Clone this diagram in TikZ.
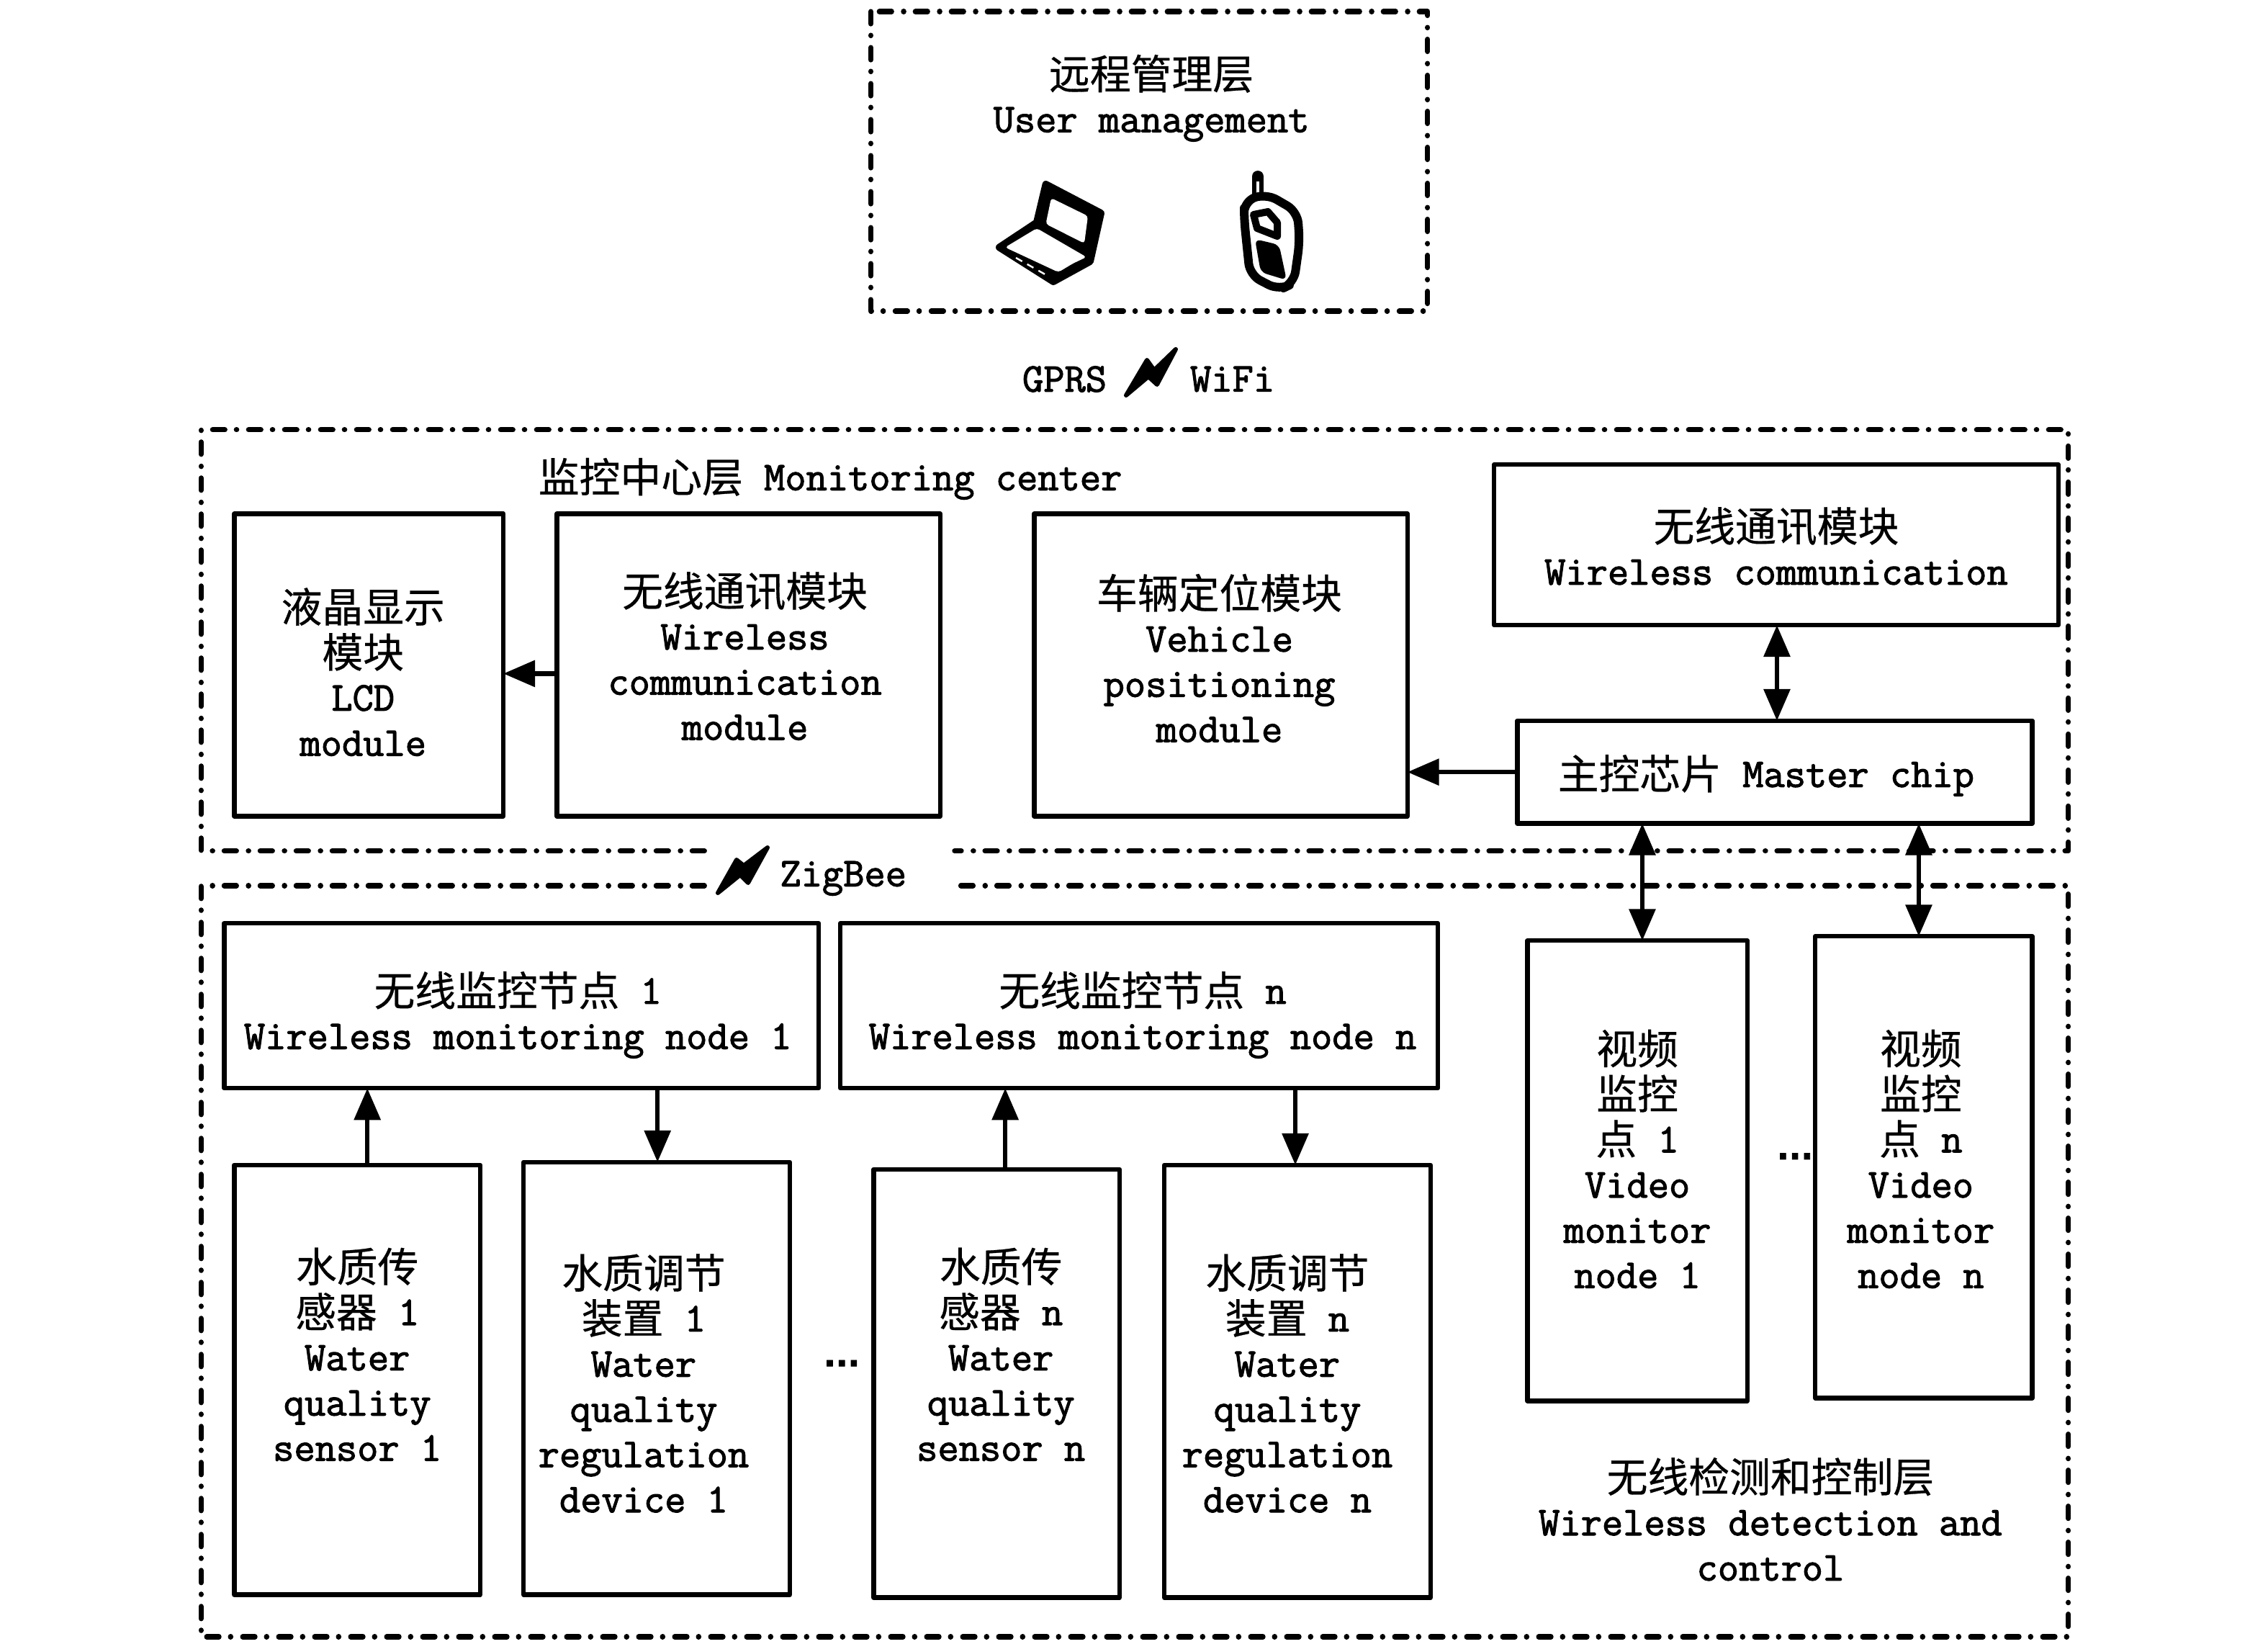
\documentclass[tikz,border=0pt]{standalone}
\usepackage{fontspec}
\setmonofont{Latin Modern Mono}[FakeBold=2]
\newfontfamily\cjk{Noto Sans CJK SC}[FakeBold=0.5]
\newfontfamily\dotfont{DejaVu Sans Bold}[FakeBold=2]
\usetikzlibrary{arrows.meta}
\tikzset{
  box/.style={draw=black,line width=3.2pt,fill=white,inner sep=0pt,outer sep=0pt,line join=round},
  lab/.style={font=\ttfamily\fontsize{28.4}{31.4}\selectfont,align=center,inner sep=0pt,text=black},
  dashline/.style={draw=black,line width=3.6pt,line cap=round,line join=round,dash pattern=on 8.5pt off 8pt on 0.2pt off 8.3pt},
  arr/.style={draw=black,line width=3.2pt,-{Triangle[length=22pt,width=18pt]}},
  dbl/.style={draw=black,line width=3.2pt,{Triangle[length=22pt,width=18pt]}-{Triangle[length=22pt,width=18pt]}},
  ink/.style={fill=black,draw=black,line join=round},
  icon/.style={x=0.5pt,y=-0.5pt},
  dotlab/.style={font=\dotfont\fontsize{22}{22}\selectfont,inner sep=0pt,text=black}
}
\newcommand{\zh}[1]{\raisebox{-1.5pt}[20pt][5pt]{\cjk #1}}
\newcommand{\boxn}[5]{\node[box,minimum width={(#4-#2)*1.004464pt},minimum height={(#5-#3)*1.00484pt}] (#1) at ({(#2+#4)/2},{(#3+#5)/2}) {};}
\begin{document}
\begin{tikzpicture}[x=1.004464pt,y=-1.00484pt]
\useasboundingbox (0,0) rectangle (1568,1136);
\fill[white] (0,0) rectangle (1568,1136);
% layer frames
\coordinate (ta) at (602,8); \coordinate (tb) at (987,215);
\draw[dashline] (ta) rectangle (tb);
\coordinate (ma) at (487,588); \coordinate (mb) at (139,588); \coordinate (mc) at (139,297); \coordinate (md) at (1430,297); \coordinate (me) at (1430,588); \coordinate (mf) at (660,588);
\draw[dashline] (ma) -- (mb) -- (mc) -- (md) -- (me) -- (mf);
\coordinate (da) at (487,612); \coordinate (db) at (139,612); \coordinate (dc) at (139,1131); \coordinate (dd) at (1430,1131); \coordinate (de) at (1430,612); \coordinate (df) at (658,612);
\draw[dashline] (da) -- (db) -- (dc) -- (dd) -- (de) -- (df);
% boxes
\boxn{lcd}{162}{355}{348}{564}
\boxn{wcm}{385}{355}{650}{564}
\boxn{veh}{715}{355}{973}{564}
\boxn{wc}{1033}{321}{1423}{432}
\boxn{chip}{1049}{498}{1405}{569}
\boxn{na}{155}{638}{566}{752}
\boxn{nb}{581}{638}{994}{752}
\boxn{sa}{162}{805}{332}{1102}
\boxn{ra}{362}{803}{546}{1102}
\boxn{sb}{604}{808}{774}{1104}
\boxn{rb}{805}{805}{989}{1104}
\boxn{va}{1056}{650}{1208}{968}
\boxn{vb}{1255}{647}{1405}{966}
% labels
\node[lab] (t1) at (796,69) {\zh{远程管理层}\\User management};
\node[lab] (t2) at (736,262) {GPRS};
\node[lab] (t3) at (852,262) {WiFi};
\node[lab] (t4) at (574,332) {\zh{监控中心层} Monitoring center};
\node[lab] (t5) at (251,465.5) {\zh{液晶显示}\\\zh{模块}\\LCD\\module};
\node[lab] (t6) at (515,454.5) {\zh{无线通讯模块}\\Wireless\\communication\\module};
\node[lab] (t7) at (843,456) {\zh{车辆定位模块}\\Vehicle\\positioning\\module};
\node[lab] (t8) at (1228,378.5) {\zh{无线通讯模块}\\Wireless communication};
\node[lab] (t9) at (1221,537) {\zh{主控芯片} Master chip};
\node[lab] (t10) at (583,607) {ZigBee};
\node[lab] (t11) at (358,702.5) {\zh{无线监控节点} 1\\Wireless monitoring node 1};
\node[lab] (t12) at (790,702.5) {\zh{无线监控节点} n\\Wireless monitoring node n};
\node[lab] (t13) at (247,937) {\zh{水质传}\\\zh{感器} 1\\Water\\quality\\sensor 1};
\node[lab] (t14) at (445,957) {\zh{水质调节}\\\zh{装置} 1\\Water\\quality\\regulation\\device 1};
\node[lab] (t15) at (692,937) {\zh{水质传}\\\zh{感器} n\\Water\\quality\\sensor n};
\node[lab] (t16) at (890,957) {\zh{水质调节}\\\zh{装置} n\\Water\\quality\\regulation\\device n};
\node[lab] (t17) at (1132,802) {\zh{视频}\\\zh{监控}\\\zh{点} 1\\Video\\monitor\\node 1};
\node[lab] (t18) at (1328,802) {\zh{视频}\\\zh{监控}\\\zh{点} n\\Video\\monitor\\node n};
\node[lab] (t19) at (1224,1051) {\zh{无线检测和控制层}\\Wireless detection and\\control};
\node[dotlab] (d1) at (582,942) {...};
\node[dotlab] (d2) at (1241,799) {...};
% connectors
\draw[dbl] ([xshift=0.5pt]wc.south) -- ([xshift=0.5pt]wc.south |- chip.north);
\draw[arr] (chip.west) -- (chip.west -| veh.east);
\draw[arr] (wcm.west) ++(0,-6pt) coordinate (w1) -- (w1 -| lcd.east);
\draw[dbl] ([xshift=-92pt]chip.south) -- ([xshift=-92pt]chip.south |- va.north);
\draw[dbl] ([xshift=100pt]chip.south) -- ([xshift=100pt]chip.south |- vb.north);
\draw[arr] ([xshift=7pt]sa.north) -- ([xshift=7pt]sa.north |- na.south);
\draw[arr] ([xshift=94.5pt]na.south) -- ([xshift=94.5pt]na.south |- ra.north);
\draw[arr] ([xshift=6pt]sb.north) -- ([xshift=6pt]sb.north |- nb.south);
\draw[arr] ([xshift=108.5pt]nb.south) -- ([xshift=108.5pt]nb.south |- rb.north);
% laptop icon
\begin{scope}[icon]
\draw[ink,line width=5pt] (1452.6,256) -- (1529,296) -- (1514,363) -- (1463,391) -- (1388,343.5) -- (1440,309) -- cycle;
\fill[white,rounded corners=2pt] (1460,275) -- (1511,300) -- (1506,338) -- (1452.5,311) -- cycle;
\fill[white,rounded corners=2pt] (1396,343.5) -- (1440,317) -- (1509,357) -- (1490,366) -- (1470,378) -- cycle;
\draw[white,line width=1.2pt,dash pattern=on 5pt off 4pt] (1411,358) -- (1455,383);
% phone icon
\draw[black,line width=8pt,line cap=round] (1747,245) -- (1747,271);
\draw[white,line width=2pt] (1747,252) -- (1747,268);
\draw[black,line width=6pt,line join=round,fill=white,rounded corners=8pt] (1728,279) -- (1759,269) -- (1802,294) -- (1805,336) -- (1797,393) -- (1776.5,403) -- (1736,382) -- (1728,305) -- cycle;
\draw[black,line width=5pt,line join=round] (1741,298) -- (1761,294) -- (1774,309) -- (1774,328) -- (1746,317) -- cycle;
\fill[black,rounded corners=4pt] (1743,332) -- (1776.5,340) -- (1787,389) -- (1751,378) -- cycle;
% bolts
\draw[ink,line width=3pt] (1564,549) -- (1593,500) -- (1603,514) -- (1633,485) -- (1607,534) -- (1595,523) -- cycle;
\draw[ink,line width=3pt] (997,1240) -- (1023,1194) -- (1033,1202) -- (1066,1177) -- (1039,1226) -- (1028,1215) -- cycle;
\end{scope}
\end{tikzpicture}
\end{document}
